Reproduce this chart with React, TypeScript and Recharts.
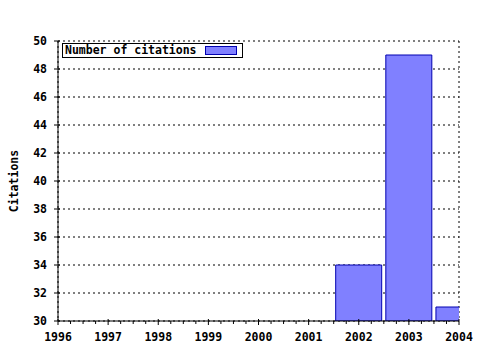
import { BarChart, Bar, XAxis, YAxis, CartesianGrid, Legend } from 'recharts';

const years = [2002, 2003, 2004];
const citations = [34, 49, 31];
const yearTicks = [1996, 1997, 1998, 1999, 2000, 2001, 2002, 2003, 2004];
const citationTicks = [30, 32, 34, 36, 38, 40, 42, 44, 46, 48, 50];
const seriesName = 'Number of citations';
const yLabel = 'Citations';

const data = years.map((year, i) => ({ year, citations: citations[i] }));
// quarter-year minor ticks between the labelled years
const quarterTicks = yearTicks.slice(0, -1).flatMap(y => [y, y + 0.25, y + 0.5, y + 0.75]).concat(yearTicks[yearTicks.length - 1]);

const FONT = '"DejaVu Sans Mono", monospace';
const BAR_FILL = '#8080ff';
const BAR_STROKE = '#0000b0';

const BottomTick = (props: any) => {
  const { x, y, payload } = props;
  const major = Number.isInteger(payload.value);
  return (
    <g>
      <line x1={x} x2={x} y1={major ? y - 2 : y} y2={major ? y + 4 : y + 3} stroke="#000" />
      {major && (
        <text x={x} y={y + 20} textAnchor="middle" fontFamily={FONT} fontWeight="bold" fontSize={11.5} fill="#000">
          {payload.value}
        </text>
      )}
    </g>
  );
};

const TopTick = (props: any) => {
  const { x, y, payload } = props;
  const major = Number.isInteger(payload.value);
  return <line x1={x} x2={x} y1={major ? y - 4 : y - 3} y2={major ? y + 3 : y} stroke="#000" />;
};

const LeftTick = (props: any) => {
  const { x, y, payload } = props;
  return (
    <g>
      <line x1={x - 4} x2={x + 2} y1={y} y2={y} stroke="#000" />
      <text x={x - 11} y={y + 4} textAnchor="end" fontFamily={FONT} fontWeight="bold" fontSize={11.5} fill="#000">
        {payload.value}
      </text>
    </g>
  );
};

const LegendBox = () => (
  <svg width={181} height={15} style={{ display: 'block' }}>
    <rect x={0.5} y={0.5} width={180} height={14} fill="#fff" stroke="#000" />
    <text x={3} y={11} fontFamily={FONT} fontWeight="bold" fontSize={11.5} fill="#000">{seriesName}</text>
    <rect x={143.5} y={3.5} width={31} height={8} fill={BAR_FILL} stroke={BAR_STROKE} />
  </svg>
);

const YTitle = (props: any) => {
  const vb = props.viewBox;
  const cx = 14;
  const cy = vb.y + vb.height / 2;
  return (
    <text x={cx} y={cy} transform={`rotate(-90 ${cx} ${cy})`} textAnchor="middle" dominantBaseline="central"
      fontFamily={FONT} fontWeight="bold" fontSize={11.5} fill="#000">
      {yLabel}
    </text>
  );
};

export default function App() {
  return (
    <div style={{ position: 'absolute', left: 0, top: 0, width: 480, height: 350, background: '#fff' }}>
      <BarChart width={480} height={350} data={data} margin={{ top: 41, right: 21, left: 8, bottom: 0 }}>
        <CartesianGrid xAxisId="top" stroke="#000" strokeDasharray="2 3" />
        <XAxis
          dataKey="year"
          type="number"
          domain={[1996, 2004]}
          ticks={quarterTicks}
          allowDataOverflow
          interval={0}
          height={29}
          tickSize={0}
          tickMargin={0}
          tick={<BottomTick />}
          axisLine={{ stroke: '#000' }}
        />
        <XAxis
          xAxisId="top"
          orientation="top"
          type="number"
          domain={[1996, 2004]}
          ticks={yearTicks}
          allowDataOverflow
          interval={0}
          height={0}
          tickSize={0}
          tickMargin={0}
          tick={<TopTick />}
          axisLine={{ stroke: '#000' }}
        />
        <XAxis
          xAxisId="topMinor"
          orientation="top"
          type="number"
          domain={[1996, 2004]}
          ticks={quarterTicks}
          allowDataOverflow
          interval={0}
          height={0}
          tickSize={0}
          tickMargin={0}
          tick={<TopTick />}
          axisLine={false}
        />
        <YAxis
          domain={[30, 50]}
          ticks={citationTicks}
          allowDataOverflow
          interval={0}
          width={50}
          tickSize={0}
          tickMargin={0}
          tick={<LeftTick />}
          axisLine={{ stroke: '#000' }}
          label={<YTitle />}
        />
        <YAxis yAxisId="right" orientation="right" width={0} tick={false} axisLine={{ stroke: '#000' }} />
        <Legend
          layout="horizontal"
          verticalAlign="middle"
          align="center"
          content={<LegendBox />}
          wrapperStyle={{ position: 'absolute', left: 62, top: 43, width: 181, height: 15 }}
        />
        <Bar
          dataKey="citations"
          name={seriesName}
          fill={BAR_FILL}
          stroke={BAR_STROKE}
          barSize={46}
          isAnimationActive={false}
        />
      </BarChart>
    </div>
  );
}
